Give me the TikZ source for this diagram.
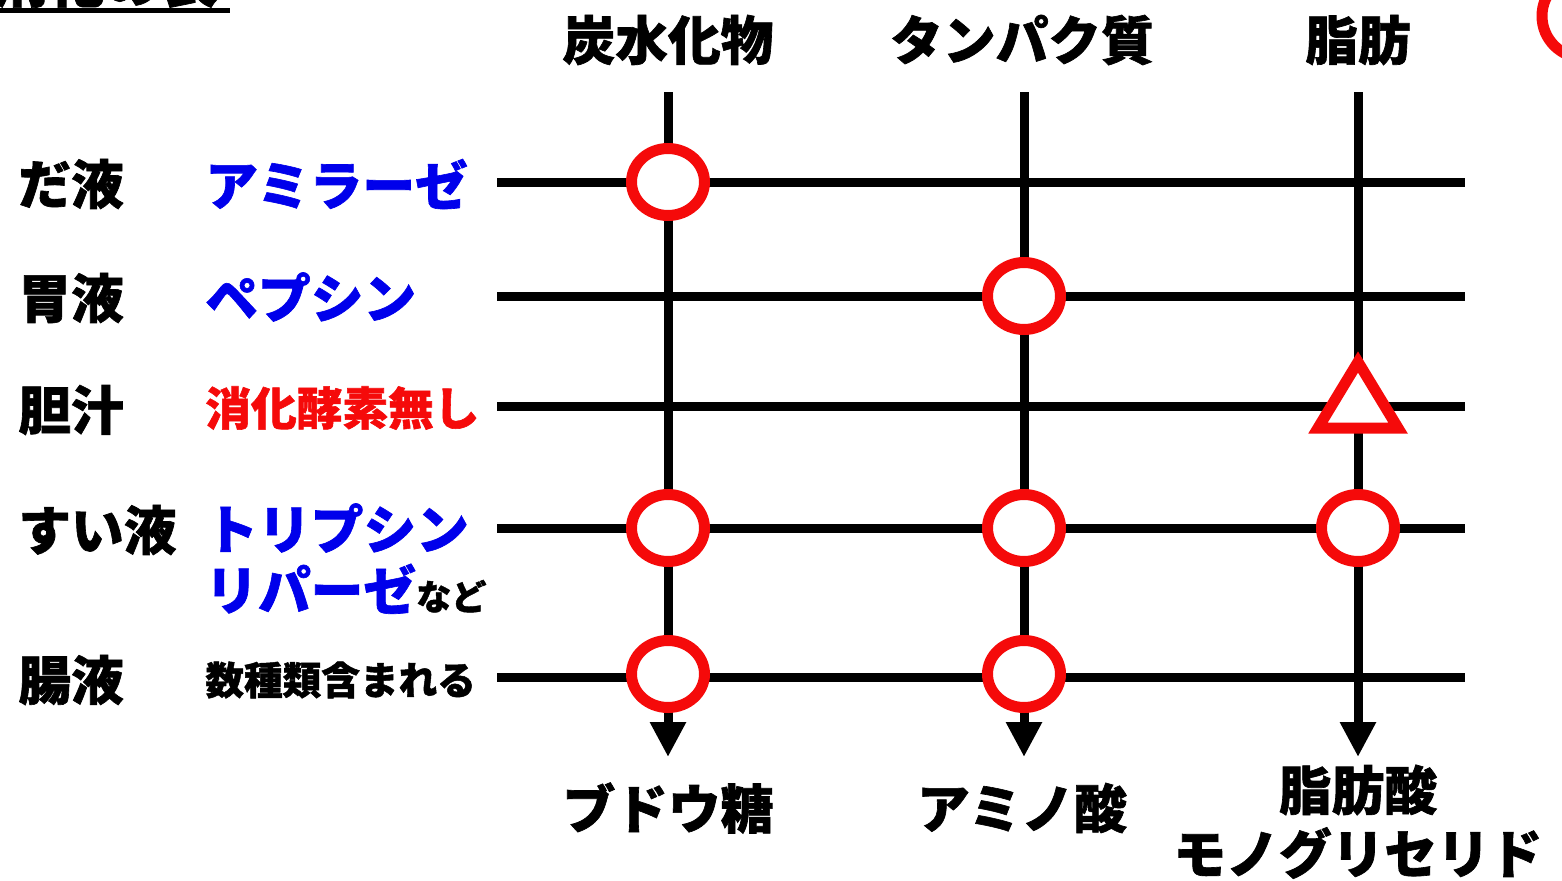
\documentclass[tikz,border=0pt]{standalone}
\usepackage{fontspec}
\setmainfont{Noto Sans CJK JP Black}[FakeBold=1.2]
\usetikzlibrary{arrows.meta,shapes.geometric}
\definecolor{mkred}{RGB}{245,10,10}
\definecolor{enzblue}{RGB}{0,0,235}
\tikzset{
  px/.style={x=0.02cm,y=-0.02cm},
  big/.style={inner sep=0pt,font=\fontsize{30}{32}\selectfont},
  mid/.style={inner sep=0pt,font=\fontsize{26}{28}\selectfont},
  small/.style={inner sep=0pt,font=\fontsize{22}{24}\selectfont},
  flow/.style={line width=0.18cm,-{Triangle[width=0.68cm,length=0.7cm]}},
  row/.style={line width=0.18cm},
  ring/.style={draw=mkred,fill=white,line width=0.22cm,ellipse,minimum width=1.46cm,minimum height=1.34cm,inner sep=0pt},
  tri/.style={draw=mkred,fill=white,line width=0.22cm,line join=miter}
}
\begin{document}
\begin{tikzpicture}[px]
\useasboundingbox (0,0) rectangle (1562,880);
\clip (0,0) rectangle (1562,880);
\fill[white] (0,0) rectangle (1562,880);

% cut-off title
\node[big,anchor=south west,font=\fontsize{32}{34}\selectfont] (title) at (-8,8) {消化の表};
\draw[line width=0.1cm] (0,10) -- (230,10);

% column heads
\node[big] (hc) at (668,40) {炭水化物};
\node[big] (hp) at (1022,40) {タンパク質};
\node[big] (hf) at (1358,40) {脂肪};

% column tops and ends
\coordinate (tc) at (668,92);
\coordinate (tp) at (1024,92);
\coordinate (tf) at (1358,92);
\coordinate (ec) at (668,757);
\coordinate (ep) at (1024,757);
\coordinate (ef) at (1358,757);

% row ends
\foreach \n/\y in {1/182,2/296,3/406,4/528,5/677}{
  \coordinate (l\n) at (497,\y);
  \coordinate (r\n) at (1465,\y);
}
\foreach \n in {1,...,5}{ \draw[row] (l\n) -- (r\n); }

\draw[flow] (tc) -- (ec);
\draw[flow] (tp) -- (ep);
\draw[flow] (tf) -- (ef);

% markers
\node[ring] (m1) at (668,182) {};
\node[ring] (m2) at (1024,296) {};
\node[ring] (m4c) at (668,528) {};
\node[ring] (m4p) at (1024,528) {};
\node[ring] (m4f) at (1358,528) {};
\node[ring] (m5c) at (668,674) {};
\node[ring] (m5p) at (1024,674) {};
\filldraw[tri] (1318,428) -- (1398,428) -- (1358,362) -- cycle;

% left labels
\node[big,anchor=west] (s1) at (18,184) {だ液};
\node[big,anchor=west] (s2) at (18,298) {胃液};
\node[big,anchor=west] (s3) at (18,410) {胆汁};
\node[big,anchor=west] (s4) at (18,530) {すい液};
\node[big,anchor=west] (s5) at (18,680) {腸液};

% enzymes
\node[big,anchor=west,text=enzblue] (e1) at (205,184) {アミラーゼ};
\node[big,anchor=west,text=enzblue] (e2) at (205,297) {ペプシン};
\node[mid,anchor=west,text=mkred] (e3) at (205,408) {消化酵素無し};
\node[big,anchor=west,text=enzblue] (e4) at (205,528) {トリプシン};
\node[big,anchor=base west,text=enzblue] (e4b) at (205,610) {リパーゼ{\color{black}\fontsize{20}{22}\selectfont など}};
\node[small,anchor=west] (e5) at (205,680) {数種類含まれる};

% products
\node[big] (pc) at (668,808) {ブドウ糖};
\node[big] (pp) at (1022,808) {アミノ酸};
\node[big] (pf1) at (1358,790) {脂肪酸};
\node[big] (pf2) at (1358,853) {モノグリセリド};

% cut-off mark at right edge
\draw[mkred,line width=0.22cm] (1584,16) circle[radius=42];
\end{tikzpicture}
\end{document}
